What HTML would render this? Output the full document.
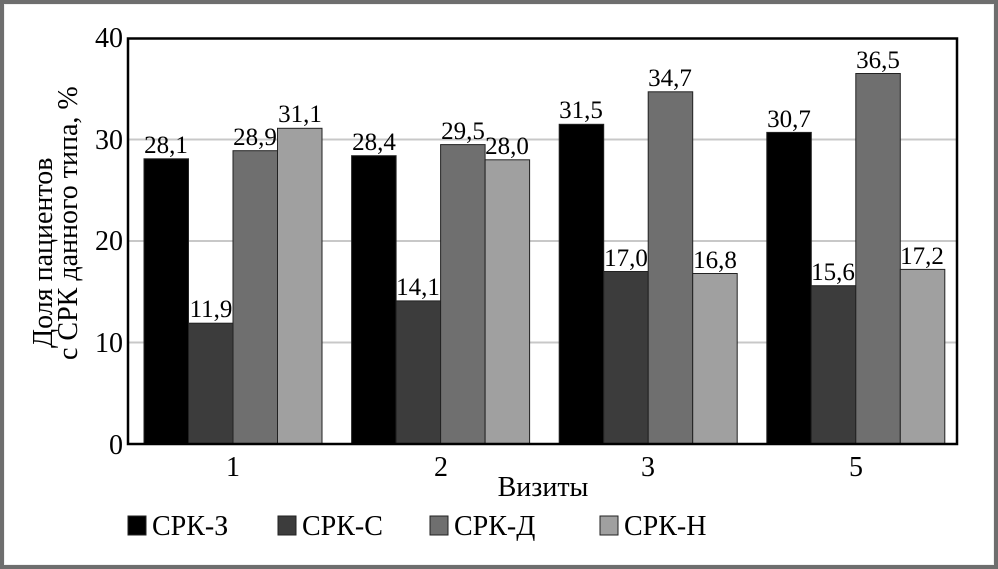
<!DOCTYPE html>
<html><head><meta charset="utf-8"><style>
html,body{margin:0;padding:0;background:#fff}
svg{display:block}
svg text{font-family:"Liberation Serif","Times New Roman","DejaVu Serif",serif;fill:#000}
</style></head><body>
<svg width="998" height="569" viewBox="0 0 998 569" xmlns="http://www.w3.org/2000/svg" font-family="Liberation Serif, Times New Roman, DejaVu Serif, serif">
<rect x="0" y="0" width="998" height="569" fill="#6e6e6e"/>
<rect x="4" y="4" width="990" height="561" fill="#f0f0f0"/>
<rect x="5" y="5" width="988" height="559" fill="#fff"/>
<g stroke="#c8c8c8" stroke-width="2">
<line x1="129" y1="342.5" x2="956" y2="342.5"/>
<line x1="129" y1="241" x2="956" y2="241"/>
<line x1="129" y1="139.5" x2="956" y2="139.5"/>
</g>
<g stroke="#222" stroke-width="1">
<rect x="144" y="158.8" width="44.5" height="285.2" fill="#000"/>
<rect x="188.5" y="323.2" width="44.5" height="120.8" fill="#3c3c3c"/>
<rect x="233" y="150.7" width="44.5" height="293.3" fill="#6f6f6f"/>
<rect x="277.5" y="128.3" width="44.5" height="315.7" fill="#a0a0a0"/>
<rect x="351.6" y="155.7" width="44.5" height="288.3" fill="#000"/>
<rect x="396.1" y="300.9" width="44.5" height="143.1" fill="#3c3c3c"/>
<rect x="440.6" y="144.6" width="44.5" height="299.4" fill="#6f6f6f"/>
<rect x="485.1" y="159.8" width="44.5" height="284.2" fill="#a0a0a0"/>
<rect x="559.2" y="124.3" width="44.5" height="319.7" fill="#000"/>
<rect x="603.7" y="271.5" width="44.5" height="172.5" fill="#3c3c3c"/>
<rect x="648.2" y="91.8" width="44.5" height="352.2" fill="#6f6f6f"/>
<rect x="692.7" y="273.5" width="44.5" height="170.5" fill="#a0a0a0"/>
<rect x="766.8" y="132.4" width="44.5" height="311.6" fill="#000"/>
<rect x="811.3" y="285.7" width="44.5" height="158.3" fill="#3c3c3c"/>
<rect x="855.8" y="73.5" width="44.5" height="370.5" fill="#6f6f6f"/>
<rect x="900.3" y="269.4" width="44.5" height="174.6" fill="#a0a0a0"/>
</g>
<rect x="128" y="38.5" width="829" height="405.5" fill="none" stroke="#000" stroke-width="2.5"/>
<g font-size="25" text-anchor="middle">
<text x="166" y="153">28,1</text>
<text x="211" y="317">11,9</text>
<text x="255" y="145">28,9</text>
<text x="300" y="122">31,1</text>
<text x="374" y="150">28,4</text>
<text x="418" y="295">14,1</text>
<text x="463" y="139">29,5</text>
<text x="507" y="154">28,0</text>
<text x="581" y="118">31,5</text>
<text x="626" y="266">17,0</text>
<text x="670" y="86">34,7</text>
<text x="715" y="268">16,8</text>
<text x="789" y="127">30,7</text>
<text x="833" y="280">15,6</text>
<text x="878" y="68">36,5</text>
<text x="922" y="264">17,2</text>
</g>
<g font-size="28" text-anchor="end">
<text x="123" y="47">40</text>
<text x="123" y="149">30</text>
<text x="123" y="250">20</text>
<text x="123" y="352">10</text>
<text x="123" y="454">0</text>
</g>
<g font-size="28" text-anchor="middle">
<text x="233" y="476">1</text>
<text x="441" y="476">2</text>
<text x="648" y="476">3</text>
<text x="856" y="476">5</text>
<text x="543" y="496">Визиты</text>
</g>
<text font-size="28" transform="translate(52,348) rotate(-90)">Доля пациентов</text>
<text font-size="28" transform="translate(77,360) rotate(-90)">с СРК данного типа, %</text>
<g stroke="#222" stroke-width="1">
<rect x="128" y="516" width="18" height="19" fill="#000"/>
<rect x="278" y="516" width="18" height="19" fill="#3c3c3c"/>
<rect x="430" y="516" width="18" height="19" fill="#6f6f6f"/>
<rect x="600" y="516" width="18" height="19" fill="#a0a0a0"/>
</g>
<g font-size="28">
<text x="152" y="535">СРК-З</text>
<text x="302" y="535">СРК-С</text>
<text x="454" y="535">СРК-Д</text>
<text x="624" y="535">СРК-Н</text>
</g>
</svg>
</body></html>
